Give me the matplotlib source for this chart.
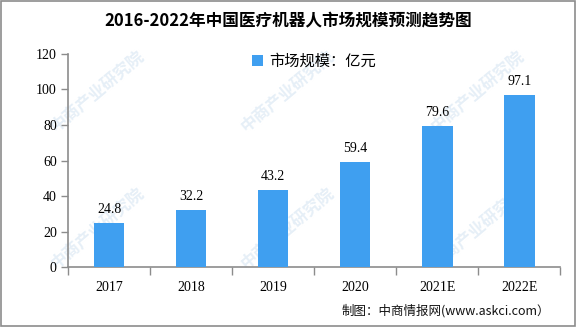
import matplotlib
matplotlib.use('Agg')
import matplotlib.pyplot as plt
from matplotlib.patches import Rectangle

plt.rcParams['font.family'] = ['Noto Sans CJK SC', 'DejaVu Sans']

# market size of China's medical robots, 100 million yuan
years = ['2017', '2018', '2019', '2020', '2021E', '2022E']
values = [24.8, 32.2, 43.2, 59.4, 79.6, 97.1]
y_ticks = [0, 20, 40, 60, 80, 100, 120]

BAR = '#3f9ff0'
AXIS = '#8c8c8c'

fig = plt.figure(figsize=(5.76, 3.27), dpi=100)
fig.patch.set_facecolor('white')
fig.patches.append(Rectangle((0.001, 0.002), 0.997, 0.996, transform=fig.transFigure,
                             fill=False, edgecolor='#8c8c8c', linewidth=1.2))

# faint diagonal watermark, kept behind the axes
for wx, wy in [(0.17, 0.72), (0.5, 0.72), (0.83, 0.72),
               (0.17, 0.3), (0.5, 0.3), (0.83, 0.3)]:
    fig.text(wx, wy, '中商产业研究院', fontsize=12, color='#e6eff7', rotation=40,
             ha='center', va='center', fontweight='bold', zorder=-1)

ax = fig.add_axes([0.118, 0.183, 0.855, 0.652])
ax.set_facecolor('none')
x = range(len(years))
bars = ax.bar(x, values, width=0.37, color=BAR, zorder=3, label='市场规模：亿元')
for xi, v in zip(x, values):
    ax.text(xi, v + 4, f'{v}', ha='center', va='bottom', fontsize=10,
            family=['Liberation Serif', 'DejaVu Serif'])

ax.set_xlim(-0.5, len(years) - 0.5)
ax.set_ylim(0, 120)
ax.set_yticks(y_ticks)
ax.set_yticklabels([str(t) for t in y_ticks], family=['Liberation Serif'], fontsize=10)
ax.set_xticks([i - 0.5 for i in range(len(years) + 1)])
ax.set_xticklabels([])
ax.set_xticks(list(x), minor=True)
ax.set_xticklabels(years, minor=True, family=['Liberation Serif'], fontsize=10)
ax.tick_params(axis='x', which='major', length=6, color=AXIS, width=1)
ax.tick_params(axis='x', which='minor', length=0, pad=10)
ax.tick_params(axis='y', length=5, color=AXIS, width=1, pad=3)

for s in ['top', 'right']:
    ax.spines[s].set_visible(False)
for s in ['left', 'bottom']:
    ax.spines[s].set_color(AXIS)
    ax.spines[s].set_linewidth(1.2)

leg = ax.legend(loc='upper center', bbox_to_anchor=(0.5, 1.07), frameon=False,
                fontsize=11, handlelength=0.7, handleheight=0.7, handletextpad=0.4)

fig.text(0.5, 0.935, '2016-2022年中国医疗机器人市场规模预测趋势图', ha='center', va='center',
         fontsize=12, fontweight='bold', family=['Noto Sans CJK SC'])
fig.text(0.955, 0.05, '制图：中商情报网(www.askci.com）', ha='right', va='center',
         fontsize=9, color='#111111')

fig.savefig('out.png', dpi=100)
